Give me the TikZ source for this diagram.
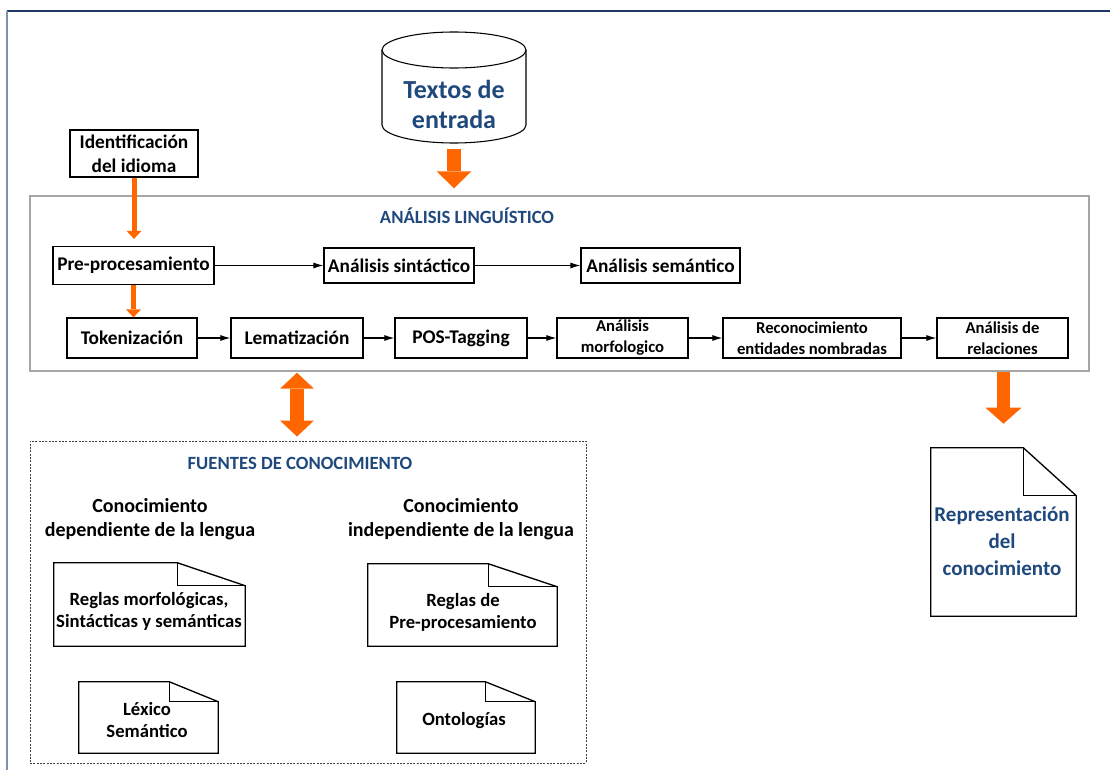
\documentclass[tikz,border=0pt]{standalone}
\usepackage{fontspec}
\setmainfont{Carlito}
\usetikzlibrary{arrows.meta,calc}
\definecolor{accent}{RGB}{255,102,0}
\definecolor{titleblue}{RGB}{31,73,125}
\definecolor{framenavy}{RGB}{31,56,100}
\definecolor{frameside}{RGB}{128,144,176}
\definecolor{panelgrey}{RGB}{166,166,166}
\newcommand\bsz[2]{\fontsize{#1}{#2}\selectfont\bfseries}
% page outline with a folded top-right corner: node name, fold width, fold height
\newcommand\docoutline[3]{%
  \draw[docline,fill=white] (#1.north west) -- ($(#1.north east)+(-#2,0)$) -- ($(#1.north east)+(0,#3)$)
     -- (#1.south east) -- (#1.south west) -- cycle;
  \draw[docline] ($(#1.north east)+(-#2,0)$) -- ($(#1.north east)+(-#2,#3)$) -- ($(#1.north east)+(0,#3)$);}

\begin{document}
\begin{tikzpicture}[x=0.75pt,y=-0.75pt,
  procbox/.style={draw,line width=0.9pt,fill=white,inner sep=0pt,align=center,font=\bsz{14.5}{18}},
  smallbox/.style={procbox,font=\bsz{12.5}{15.75}},
  page/.style={inner sep=0pt},
  pagetext/.style={align=center,font=\bsz{14}{16.5}},
  docline/.style={line width=1pt},
  paneltitle/.style={text=titleblue,font=\bsz{14}{16}},
  flow/.style={line width=0.8pt,-{Latex[length=7.5pt,width=4.5pt]}},
  thinor/.style={draw=accent,line width=3.75pt,-{Triangle[length=6pt,width=11.25pt,line width=0pt]}},
  bigor/.style={draw=accent,line width=10.5pt,-{Triangle[length=12.75pt,width=26.25pt,line width=0pt]}},
  bothor/.style={draw=accent,line width=10.5pt,
    {Triangle[length=12pt,width=25.5pt,line width=0pt]}-{Triangle[length=12pt,width=25.5pt,line width=0pt]}}
]
\useasboundingbox (0,0) rectangle (1110,770);

% outer frame
\draw[framenavy,line width=1.3pt] (7,11) -- (1110,11);
\draw[frameside,line width=1.3pt] (7,11) -- (7,770);

% input texts (cylinder)
\draw[line width=0.8pt,fill=white] (382,50) -- (382,125)
  arc[start angle=180,end angle=360,x radius=54pt,y radius=13.5pt] -- (526,50);
\draw[line width=0.8pt,fill=white] (454,50) ellipse[x radius=54pt,y radius=13.5pt];
\coordinate (cylbase) at (454,143);
\node[text=titleblue,align=center,font=\bsz{19.5}{22.5}] (cyl) at (454,104) {Textos de\\entrada};

% language identification
\node[procbox,minimum width=96pt,minimum height=35.25pt] (idi) at (134,153.5) {Identificación\\del idioma};

% linguistic analysis panel
\node[draw=panelgrey,line width=1.1pt,minimum width=794.25pt,minimum height=131.25pt,inner sep=0pt] (ana) at (559.5,283.5) {};
\node[paneltitle] (anat) at (467,216) {ANÁLISIS LINGUÍSTICO};

\node[procbox,minimum width=120.75pt,minimum height=28.5pt] (pre) at (133.5,265.5) {Pre-procesamiento};
\node[procbox,minimum width=112.5pt,minimum height=26.25pt] (sin) at (399,265.5) {Análisis sintáctico};
\node[procbox,minimum width=119.25pt,minimum height=26.25pt] (sem) at (660.5,265.5) {Análisis semántico};

\node[procbox,minimum width=97.5pt,minimum height=30pt] (tok) at (132,338) {Tokenización};
\node[procbox,minimum width=99pt,minimum height=30pt] (lem) at (297,338) {Lematización};
\node[procbox,minimum width=99pt,minimum height=30pt] (pos) at (461,338) {POS-Tagging};
\node[smallbox,minimum width=98.25pt,minimum height=30pt] (mor) at (622.5,338) {Análisis\\morfologico};
\node[smallbox,minimum width=133.5pt,minimum height=30pt] (rec) at (812,338) {Reconocimiento\\entidades nombradas};
\node[smallbox,minimum width=98.25pt,minimum height=30pt] (rel) at (1002.5,338) {Análisis de\\relaciones};

\draw[flow] (pre) -- (sin);
\draw[flow] (sin) -- (sem);
\draw[flow] (tok) -- (lem);
\draw[flow] (lem) -- (pos);
\draw[flow] (pos) -- (mor);
\draw[flow] (mor) -- (rec);
\draw[flow] (rec) -- (rel);

% knowledge sources panel
\node[draw=black!75,line width=0.7pt,dash pattern=on 1.5pt off 1pt,minimum width=417pt,minimum height=241.5pt,inner sep=0pt] (fue) at (308,602) {};
\node[paneltitle] (fuet) at (300,463) {FUENTES DE CONOCIMIENTO};
\node[align=center,font=\bsz{15}{18}] (dep) at (150,519) {Conocimiento\\dependiente de la lengua};
\node[align=center,font=\bsz{15}{18}] (ind) at (461,519) {Conocimiento\\independiente de la lengua};

\node[page,minimum width=143.25pt,minimum height=62.25pt] (mrf) at (149.5,604.5) {};
\docoutline{mrf}{68}{23}
\node[pagetext] (mrft) at (149,611) {Reglas morfológicas,\\Sintácticas y semánticas};

\node[page,minimum width=141.75pt,minimum height=61.5pt] (prr) at (462.5,605) {};
\docoutline{prr}{69}{23}
\node[pagetext] (prrt) at (463,612.5) {Reglas de\\Pre-procesamiento};

\node[page,minimum width=104.25pt,minimum height=53.25pt] (lex) at (148.5,717.5) {};
\docoutline{lex}{49}{20}
\node[pagetext] (lext) at (147,720) {Léxico\\Semántico};

\node[page,minimum width=103.5pt,minimum height=53.25pt] (ont) at (466,717.5) {};
\docoutline{ont}{50}{20}
\node[pagetext] (ontt) at (464,721) {Ontologías};

% knowledge representation
\node[page,minimum width=108.75pt,minimum height=126pt] (rep) at (1003.5,532) {};
\docoutline{rep}{53}{48}
\node[align=center,text=titleblue,font=\bsz{15.75}{20.25}] (rept) at (1002,541) {Representación\\del\\conocimiento};

% orange connectors
\draw[bigor,shorten <=4.5pt,shorten >=5.25pt] (cylbase) -- (ana.north -| cylbase);
\draw[thinor,shorten >=5.25pt] (idi.south) -- (idi.south |- pre.north);
\draw[thinor] (pre.south) -- (pre.south |- tok.north);
\draw[bothor,shorten <=0.75pt,shorten >=3pt] (lem.south |- ana.south) -- (lem.south |- fue.north);
\draw[draw=accent,line width=9.75pt,-{Triangle[length=12pt,width=27pt,line width=0pt]},shorten >=18pt]
  (rep.north |- ana.south) -- (rep.north);
\end{tikzpicture}
\end{document}
